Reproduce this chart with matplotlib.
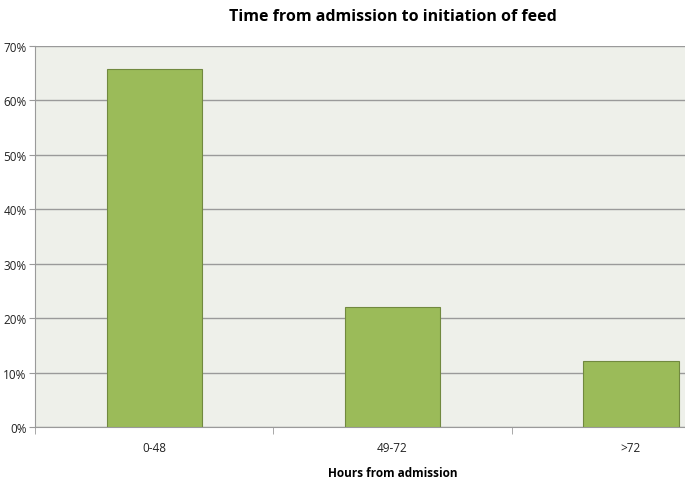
import matplotlib
matplotlib.use("Agg")
import matplotlib.pyplot as plt
from matplotlib.ticker import FixedLocator, PercentFormatter

categories = ["0-48", "49-72", ">72"]
values = [65.8, 22.0, 12.1]
yticks = [0, 10, 20, 30, 40, 50, 60, 70]

plt.rcParams['font.family'] = ['Open Sans', 'DejaVu Sans']

fig = plt.figure(figsize=(6.85, 4.81), dpi=100)
fig.patch.set_facecolor("white")
ax = fig.add_axes([35/685, 1-428/481, (750-35)/685, (428-47)/481])
ax.set_facecolor("#EEF0EA")

x = list(range(len(categories)))
ax.bar(x, values, width=0.40, color="#9BBB59", edgecolor="#71893F", linewidth=0.8, zorder=3)

ax.set_xlim(-0.5, 2.5)
ax.set_ylim(0, 70)
ax.set_yticks(yticks)
ax.yaxis.set_major_formatter(PercentFormatter(decimals=0))
ax.yaxis.grid(True, color="#9a9a9a", linewidth=1.0, zorder=1)
ax.set_axisbelow(True)

ax.set_xticks(x)
ax.set_xticklabels(categories)
ax.xaxis.set_minor_locator(FixedLocator([-0.5, 0.5, 1.5]))
ax.tick_params(axis="x", which="major", length=0, pad=10, labelsize=8.5, colors="#222222")
ax.tick_params(axis="x", which="minor", length=5, color="#9a9a9a")
ax.tick_params(axis="y", length=4, color="#9a9a9a", labelsize=8.5, pad=2, labelcolor="#222222")

for s in ["top", "right"]:
    ax.spines[s].set_visible(False)
ax.spines["left"].set_color("#9a9a9a")
ax.spines["bottom"].set_color("#9a9a9a")

ax.set_title("Time from admission to initiation of feed", fontsize=11.5, fontweight="bold", pad=19)
ax.set_xlabel("Hours from admission", fontsize=8.5, fontweight="bold")
ax.xaxis.set_label_coords(0.5, -(467 - 428) / 381)

fig.savefig("out.png", dpi=100)
